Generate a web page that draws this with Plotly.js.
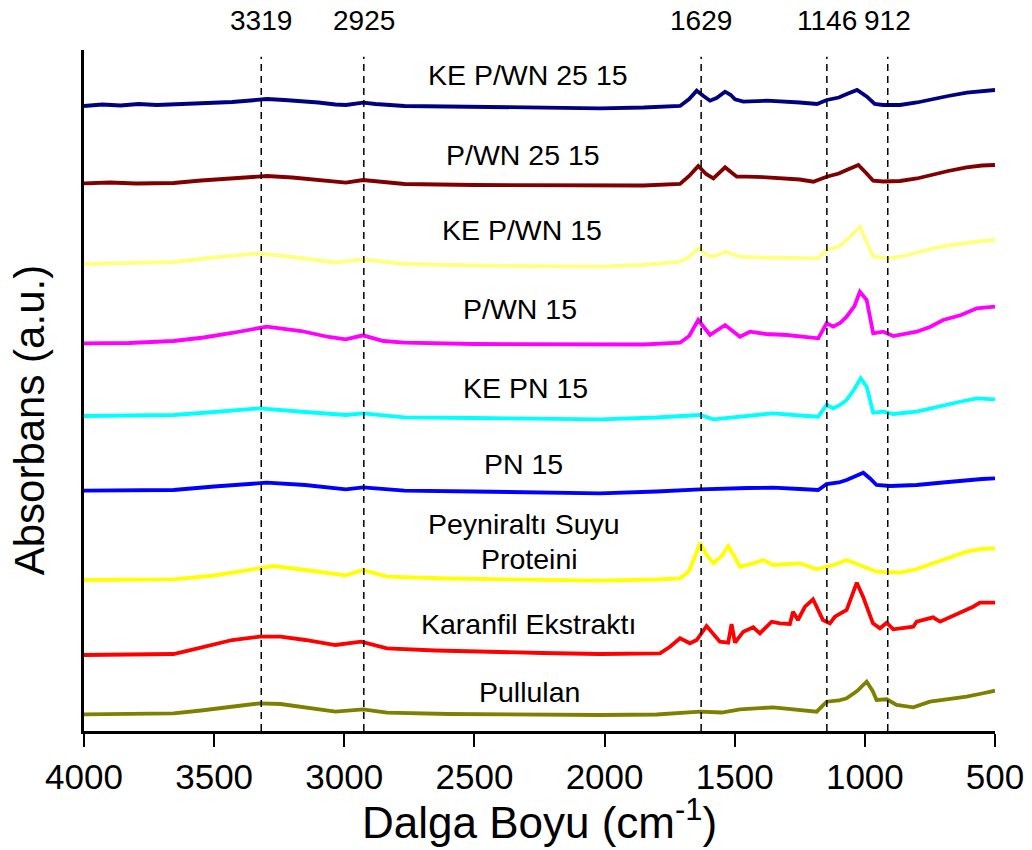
<!DOCTYPE html>
<html>
<head>
<meta charset="utf-8">
<script src="https://cdn.plot.ly/plotly-3.0.1.min.js"></script>
<style>html,body{margin:0;padding:0;background:#fff;}#chart{width:1032px;height:850px;}</style>
</head>
<body>
<div id="chart"></div>
<script>
// Peak marker positions (cm-1)
const markerLines = [3319, 2925, 1629, 1146, 912];

// Sample names (top to bottom)
const sampleNames = ["KE P/WN 25 15", "P/WN 25 15", "KE P/WN 15", "P/WN 15", "KE PN 15", "PN 15", "Peyniraltı Suyu Proteini", "Karanfil Ekstraktı", "Pullulan"];

// Spectra (wavenumber, stacked absorbance in a.u.)
const wnKEPWN2515 = [4000,3930,3860,3790,3720,3656,3580,3500,3431,3360,3298,3230,3166,3100,3034,2994,2928,2880,2769,2505,2240,2018,1850,1710,1675,1646,1620,1595,1570,1537,1515,1499,1467,1377,1250,1184,1146,1100,1069,1030,992,962,930,865,800,738,680,608,550,500];
const abKEPWN2515 = [625,626.5,625.5,627,626,626.5,627.5,628,629,630.5,632,631,630,628.5,626.5,626,628.3,627,625,624,623,622.7,623.5,625,632,640.3,635,630.3,633,639.3,636,631.7,629.3,630.3,628.5,627,631,633.5,637,641,634.3,627,626,626,628.5,632,635,638.3,640,641];

const wnPWN2515 = [4000,3900,3800,3700,3656,3550,3431,3298,3200,3100,2994,2928,2769,2505,2240,2018,1850,1710,1675,1640,1610,1582,1537,1510,1492,1454,1377,1250,1198,1147,1100,1070,1025,995,968,930,865,800,737,680,609,550,500];
const abPWN2515 = [547.7,548.5,547.5,548.5,548,550.5,552.5,555,553.5,551,548.3,551,547,546,545.5,545,545.5,547,555,565,557,552.7,563.7,558,554.3,554.3,553.7,551.5,549.3,554.3,557.5,561,566,558,550.3,549.5,550,552.5,556.7,560,563.7,565.5,566];

const wnKEPWN15 = [4000,3850,3656,3500,3325,3200,3034,2928,2769,2505,2240,2018,1850,1710,1675,1640,1605,1582,1537,1480,1400,1300,1179,1147,1100,1070,1019,995,968,903,850,800,737,680,609,550,500];
const abKEPWN15 = [467,467.5,469,473.5,477.7,474,468.3,471.7,467,465.5,465,464.3,466,469.3,474,482.7,476,474.3,479.3,474.3,473.5,473.5,472.7,481,484.5,491,504.3,490,474.3,472.7,475,478.5,482.7,485.5,488.3,490,491];

const wnPWN15 = [4000,3827,3656,3540,3431,3298,3166,3060,2994,2928,2850,2769,2505,2240,2018,1850,1710,1675,1640,1595,1537,1480,1441,1380,1300,1198,1179,1147,1121,1095,1070,1040,1019,993,968,929,891,801,750,699,630,570,500];
const abPWN15 = [387.7,388,390,393.5,398,404.3,400,394,391.7,395.7,390,388.3,387,386.5,386,386.5,388.3,395,411,396,406,394.3,399.3,397,396,393.7,392.7,407.7,404.3,408,414.3,425,439.3,431,397.7,399.3,395,399.3,404,411,416,422.7,424.3];

const wnKEPN15 = [4000,3800,3656,3500,3325,3150,2994,2928,2769,2505,2240,2018,1800,1633,1582,1450,1352,1250,1179,1147,1121,1095,1070,1040,1016,993,968,929,891,801,750,699,630,570,500];
const abKEPN15 = [315,315.5,316,319,322.7,319,316,317.7,313.7,313,312.5,311.7,313.5,316,311.7,315,317.7,315.5,314.3,326,322.7,326,331,342,352.7,344.3,318.3,319.3,317,319.3,322.5,326,329.5,332.7,331.7];

const wnPN15 = [4000,3800,3656,3500,3298,3150,2994,2928,2769,2505,2240,2018,1800,1633,1450,1352,1250,1179,1147,1100,1070,1030,1006,980,955,903,801,700,609,550,500];
const abPN15 = [240.3,240.5,241,244.5,248.3,246,241.7,243.7,240.3,239.5,238.5,237.7,239.5,241.7,243,243.3,242,241,247,248.5,251,256,258.3,252.5,246,245,246,248.5,251,252,252.7];

const wnWPI = [4000,3800,3656,3500,3380,3272,3150,2994,2928,2836,2600,2300,2018,1800,1710,1675,1633,1605,1582,1550,1525,1500,1480,1429,1390,1352,1300,1249,1185,1120,1070,1010,955,865,800,737,680,609,550,500];
const abWPI = [151,151.3,151.7,155.5,160,165,161,155.7,161,154.3,152.5,151.5,150.3,151.5,152.7,160,187.7,175,167.7,175,185,174,164.3,167.7,171,166,167,167.7,161.7,166,171,165,159.3,158.3,162,167.7,173,179.3,182,182.7];

const wnClove = [4000,3800,3656,3563,3500,3431,3325,3245,3150,3034,2935,2836,2650,2505,2240,2018,1900,1787,1750,1710,1672,1646,1608,1580,1557,1525,1512,1499,1467,1429,1403,1358,1326,1288,1276,1257,1230,1199,1161,1134,1115,1070,1031,1007,969,942,916,891,814,801,738,711,635,584,558,500];
const abClove = [76,76.5,77,82.7,87,91,94.3,94.3,91,86,89.3,82.7,80.5,79.3,78,77,77.2,77.7,84,92.7,87.7,91,105,96,89.3,88.3,107,88.3,99.3,103.7,97.7,109.3,107.7,107,119.3,111,124.3,131.7,111,107.7,114.3,121,148.3,134.3,107.7,102.7,108.3,101.7,104.3,109.3,113.7,109.3,117.7,124.3,128.3,128.3];

const wnPullulan = [4000,3800,3656,3550,3431,3325,3245,3150,3034,2928,2836,2600,2300,2018,1800,1633,1550,1480,1352,1250,1185,1147,1100,1070,1030,993,970,955,916,878,814,750,680,609,550,500];
const abPullulan = [16.7,17,17.7,20.5,24,27.7,27,23.5,19.3,21.7,18.3,17,16.3,16,16.5,19.3,18.5,21.7,23.7,21.5,19.3,29.3,30.5,32.7,40,49.3,40,31,31.7,26,23.7,29.3,31.5,34.3,37.5,40.3];

const spectraX = [wnKEPWN2515, wnPWN2515, wnKEPWN15, wnPWN15, wnKEPN15, wnPN15, wnWPI, wnClove, wnPullulan];
const spectraY = [abKEPWN2515, abPWN2515, abKEPWN15, abPWN15, abKEPN15, abPN15, abWPI, abClove, abPullulan];
const colors = ["#000080", "#800000", "#FFFF80", "#FF00FF", "#00FFFF", "#0000FF", "#FFFF00", "#FF0000", "#808000"];

// Label anchor positions (wavenumber, a.u.) for each sample name line
const labelText = ["KE P/WN 25 15", "P/WN 25 15", "KE P/WN 15", "P/WN 15", "KE PN 15", "PN 15", "Peyniraltı Suyu", "Proteini", "Karanfil Ekstraktı", "Pullulan"];
const labelWn = [2294, 2315, 2317, 2326, 2303, 2310, 2310, 2287, 2294, 2287];
const labelAb = [656, 576, 501, 422, 343, 267, 207, 172, 107, 39];

const traces = spectraX.map((xs, i) => ({
  type: 'scatter', mode: 'lines', x: xs, y: spectraY[i], name: sampleNames[i],
  line: {color: colors[i], width: 3.8, shape: 'linear'}, hoverinfo: 'x+name'
}));

const FONT = 'Liberation Sans, Arial, sans-serif';
const annotations = labelText.map((t, i) => ({
  x: labelWn[i], y: labelAb[i], xref: 'x', yref: 'y', text: t, showarrow: false,
  font: {family: FONT, size: 28.5, color: '#000'}, xanchor: 'center', yanchor: 'middle'
}));
markerLines.forEach(v => annotations.push({
  x: v, y: 1.043, xref: 'x', yref: 'paper', text: String(v), showarrow: false,
  font: {family: FONT, size: 28, color: '#000'}, xanchor: 'center', yanchor: 'middle'
}));
annotations.push({
  x: 0.5, y: -0.13, xref: 'paper', yref: 'paper', text: 'Dalga Boyu (cm<sup>-1</sup>)', showarrow: false,
  font: {family: FONT, size: 44, color: '#000'}, xanchor: 'center', yanchor: 'middle'
});
annotations.push({
  x: -0.06, y: 311, xref: 'paper', yref: 'y', text: 'Absorbans (a.u.)', showarrow: false, textangle: -90,
  font: {family: FONT, size: 42, color: '#000'}, xanchor: 'center', yanchor: 'middle'
});

const shapes = markerLines.map(v => ({
  type: 'line', xref: 'x', yref: 'paper', x0: v, x1: v, y0: 0, y1: 0.99,
  line: {color: '#000', width: 1.5, dash: '7px,5px'}
}));

const layout = {
  width: 1032, height: 850,
  margin: {l: 84, r: 37, t: 50, b: 119},
  paper_bgcolor: '#fff', plot_bgcolor: '#fff',
  showlegend: false,
  xaxis: {
    range: [4000, 500], tickvals: [4000, 3500, 3000, 2500, 2000, 1500, 1000, 500],
    ticks: 'outside', ticklen: 13, tickwidth: 2, tickcolor: '#000',
    showline: true, linecolor: '#000', linewidth: 3, showgrid: false, zeroline: false,
    tickfont: {family: FONT, size: 35, color: '#000'}
  },
  yaxis: {
    range: [0, 681], showticklabels: false, ticks: '', showgrid: false, zeroline: false,
    showline: true, linecolor: '#000', linewidth: 3
  },
  annotations: annotations,
  shapes: shapes
};

Plotly.newPlot('chart', traces, layout, {staticPlot: true});
</script>
</body>
</html>
